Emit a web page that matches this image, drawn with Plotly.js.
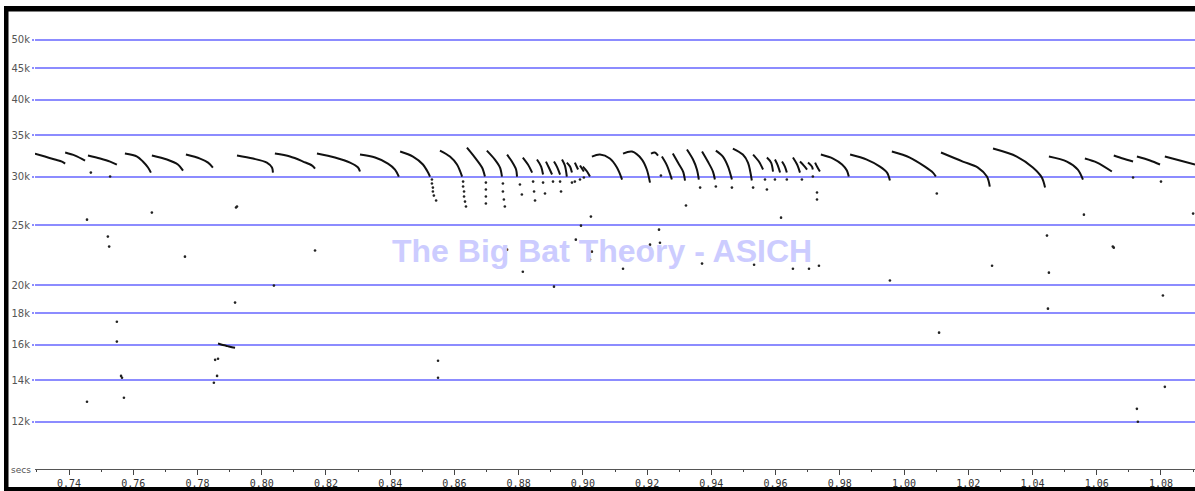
<!DOCTYPE html>
<html><head><meta charset="utf-8">
<script src="https://cdn.plot.ly/plotly-3.0.1.min.js"></script>
<style>html,body{margin:0;padding:0;background:#fff;overflow:hidden}#chart{width:1195px;height:491px}</style>
</head><body><div id="chart"></div>
<script>
const xTickVals = [0.74,0.76,0.78,0.80,0.82,0.84,0.86,0.88,0.90,0.92,0.94,0.96,0.98,1.00,1.02,1.04,1.06,1.08];
const xTickText = ['0.74','0.76','0.78','0.80','0.82','0.84','0.86','0.88','0.90','0.92','0.94','0.96','0.98','1.00','1.02','1.04','1.06','1.08'];
const yTickVals = [12,14,16,18,20,25,30,35,40,45,50];
const yTickText = ['12k','14k','16k','18k','20k','25k','30k','35k','40k','45k','50k'];

// Call contours: time (s) and frequency (kHz)
const callTimes = [
 [0.7294,0.7325,0.7356,0.7378,0.7388],
 [0.7388,0.7419,0.7450],
 [0.7459,0.7497,0.7528,0.7549],
 [0.7574,0.7612,0.7630,0.7646,0.7655],
 [0.7658,0.7705,0.7739,0.7755],
 [0.7764,0.7808,0.7833,0.7848],
 [0.7923,0.7973,0.8016,0.8032,0.8035],
 [0.8041,0.8088,0.8129,0.8157,0.8166],
 [0.8172,0.8228,0.8275,0.8300,0.8306],
 [0.8306,0.8353,0.8393,0.8415,0.8427],
 [0.8431,0.8471,0.8502,0.8518,0.8524],
 [0.8555,0.8586,0.8608,0.8624],
 [0.8639,0.8664,0.8686,0.8695],
 [0.8701,0.8726,0.8742,0.8748],
 [0.8764,0.8779,0.8792,0.8795],
 [0.8813,0.8829,0.8842],
 [0.8857,0.8870,0.8876],
 [0.8885,0.8894,0.8904],
 [0.8910,0.8919,0.8929],
 [0.8935,0.8944,0.8950],
 [0.8950,0.8960,0.8966],
 [0.8975,0.8985],
 [0.8991,0.9003],
 [0.9000,0.9013,0.9022],
 [0.9028,0.9053,0.9084,0.9106,0.9122],
 [0.9125,0.9153,0.9184,0.9199,0.9209],
 [0.9212,0.9224,0.9234],
 [0.9246,0.9262,0.9277],
 [0.9280,0.9296,0.9312,0.9318],
 [0.9324,0.9343,0.9355,0.9361],
 [0.9371,0.9389,0.9405,0.9411],
 [0.9414,0.9436,0.9452,0.9464],
 [0.9467,0.9498,0.9514,0.9526],
 [0.9530,0.9548,0.9561],
 [0.9573,0.9586,0.9592],
 [0.9598,0.9607,0.9614],
 [0.9620,0.9629,0.9635],
 [0.9654,0.9667,0.9676],
 [0.9676,0.9688,0.9698],
 [0.9701,0.9713,0.9716],
 [0.9723,0.9729,0.9738],
 [0.9741,0.9779,0.9807,0.9822,0.9828],
 [0.9832,0.9884,0.9925,0.9947,0.9956],
 [0.9962,1.0018,1.0065,1.0090,1.0099],
 [1.0115,1.0183,1.0230,1.0258,1.0267],
 [1.0277,1.0351,1.0401,1.0429,1.0439],
 [1.0451,1.0507,1.0541,1.0557],
 [1.0563,1.0601,1.0647],
 [1.0653,1.0681,1.0713],
 [1.0725,1.0766,1.0797],
 [1.0812,1.0859,1.0906],
 [0.7864,0.7876,0.7889,0.7901,0.7917]
];
const callFreqs = [
 [32.69,32.33,31.97,31.73,31.49],
 [32.82,32.45,31.85],
 [32.45,32.09,31.73,31.38],
 [32.69,32.33,31.73,31.03,30.45],
 [32.45,31.97,31.38,30.68],
 [32.57,32.09,31.61,31.03],
 [32.45,32.09,31.61,31.03,30.45],
 [32.69,32.33,31.73,31.26,30.91],
 [32.69,32.21,31.61,31.03,30.57],
 [32.57,32.21,31.49,30.80,30.00],
 [32.94,32.33,31.38,30.45,30.00],
 [33.06,32.33,31.38,30.00],
 [33.43,32.21,31.03,30.00],
 [33.06,31.97,31.03,30.00],
 [32.57,31.73,30.80,30.00],
 [32.21,31.38,30.45],
 [31.97,31.14,30.23],
 [31.73,31.03,30.23],
 [31.73,31.14,30.23],
 [31.97,31.26,30.00],
 [31.61,31.14,30.45],
 [31.61,30.80],
 [31.26,30.57],
 [31.14,30.57,30.00],
 [32.33,32.57,32.09,31.03,29.67],
 [32.69,32.94,31.97,30.80,29.33],
 [32.69,32.82,32.45],
 [32.33,31.26,29.67],
 [32.69,31.61,30.57,29.56],
 [33.19,31.97,30.80,29.67],
 [32.94,31.73,30.57,29.67],
 [33.06,32.33,31.14,29.67],
 [33.31,32.57,31.61,29.56],
 [32.57,31.73,30.80],
 [32.21,31.61,30.57],
 [31.97,31.26,30.45],
 [31.73,31.14,30.45],
 [32.21,31.38,30.45],
 [31.73,31.26,30.80],
 [31.61,31.14,30.80],
 [31.61,31.14,30.57],
 [32.57,32.09,31.38,30.68,30.00],
 [32.57,31.97,31.14,30.45,29.56],
 [32.94,32.21,31.14,30.45,30.00],
 [32.82,31.73,31.03,30.00,28.90],
 [33.31,32.33,31.03,29.89,28.79],
 [32.33,31.73,30.80,29.67],
 [32.09,31.61,30.57],
 [32.45,32.09,31.73],
 [32.33,31.85,31.38],
 [32.33,31.85,31.38],
 [16.07,16.00,15.94,15.88,15.82]
];

// Sparse tail dots below the calls
const tailTimes = [0.8530,0.8530,0.8533,0.8533,0.8536,0.8543,
 0.8627,0.8627,0.8630,0.8630,0.8633,0.8636,
 0.8698,0.8698,0.8698,0.8698,
 0.8751,0.8751,0.8754,0.8757,
 0.8804,0.8810,
 0.8845,0.8848,0.8851,
 0.8876,0.8882,
 0.8907,
 0.8929,0.8932,
 0.8966,0.8975,0.8991,0.9003,
 0.9365,0.9414,0.9464,0.9530,
 0.9567,0.9573,0.9598,0.9635,0.9682,0.9716,
 0.9729,0.9729,1.0102,1.0713,1.0800];
const tailFreqs = [29.67,29.23,28.79,28.37,27.94,27.43,
 29.44,28.90,28.37,27.84,27.32,26.82,
 29.33,28.58,27.84,27.12,
 29.23,28.37,27.53,26.82,
 29.12,28.05,
 29.44,28.37,27.43,
 29.33,28.16,
 29.44,
 29.44,28.37,
 29.33,29.44,29.67,29.89,
 28.79,28.90,28.79,28.79,
 29.67,28.58,29.67,29.67,29.67,30.00,
 28.26,27.53,28.16,29.89,29.44];

// Isolated stray points
const strayTimes = [0.7468,0.7528,0.7456,0.7521,0.7525,0.7658,0.7761,0.7920,0.7923,0.7917,0.8038,
 0.7549,0.7549,0.7855,0.7864,0.7562,0.7565,0.7861,0.7851,0.7571,0.7456,
 0.8166,0.8549,0.8549,0.8764,0.8813,0.8910,0.8978,0.8994,0.9025,0.9028,0.9022,
 0.9125,0.9209,0.9237,0.9240,0.9243,0.9321,0.9371,0.9533,0.9617,0.9654,0.9704,0.9735,
 0.9956,1.0109,1.0274,1.0445,1.0451,1.0448,1.0560,1.0650,1.0653,1.0806,1.0812,1.0725,1.0728,1.0900];
const strayFreqs = [30.45,30.00,25.54,23.97,23.09,26.22,22.24,26.72,26.82,18.73,19.96,
 17.44,16.19,15.12,15.18,14.24,14.14,14.24,13.88,13.12,12.93,
 22.75,15.07,14.14,22.83,21.02,19.88,23.70,24.97,25.83,22.66,22.00,
 21.26,23.26,24.60,23.43,30.11,26.92,21.67,21.58,25.73,21.26,21.26,21.50,
 20.34,16.74,21.50,24.06,20.95,18.31,26.02,23.09,23.00,19.23,13.67,12.59,12.00,26.12];

const traces = [];
callTimes.forEach((t, i) => {
  traces.push({type:'scatter', mode:'lines', x:t, y:callFreqs[i],
    line:{color:'#111', width:2, shape:'spline', smoothing:0.9},
    hoverinfo:'skip', showlegend:false});
});
traces.push({type:'scatter', mode:'markers', x:tailTimes, y:tailFreqs,
  marker:{color:'#222', size:2.6}, hoverinfo:'skip', showlegend:false});
traces.push({type:'scatter', mode:'markers', x:strayTimes, y:strayFreqs,
  marker:{color:'#222', size:2.6}, hoverinfo:'skip', showlegend:false});

const L = 35, B = 22, T = 12, W = 1195, H = 491;
const pw = W - L, ph = H - T - B;
const px = v => (v - L) / pw;
const py = v => (H - B - v) / ph;

const layout = {
  width: W, height: H,
  margin: {l: L, r: 0, t: T, b: B, pad: 0},
  paper_bgcolor: '#fff', plot_bgcolor: '#fff',
  showlegend: false,
  xaxis: {
    range: [0.72941, 1.09059], showgrid: false, zeroline: false,
    tickmode: 'array', tickvals: xTickVals, ticktext: xTickText,
    ticks: 'outside', ticklen: 5, tickwidth: 1, tickcolor: '#444',
    showline: true, linecolor: '#555', linewidth: 1,
    tickfont: {family: 'DejaVu Sans Mono, monospace', size: 10, color: '#333'},
    minor: {dtick: 0.01, tick0: 0.73, ticks: 'outside', ticklen: 2, tickcolor: '#444', showgrid: false}
  },
  yaxis: {
    type: 'log', range: [Math.log10(10.055), Math.log10(55.5)],
    tickmode: 'array', tickvals: yTickVals, ticktext: yTickText,
    showgrid: true, gridcolor: 'rgb(140,140,255)', gridwidth: 2,
    zeroline: false, showline: false,
    ticks: 'outside', ticklen: 2, tickwidth: 2, tickcolor: 'rgb(140,140,255)',
    tickfont: {family: 'DejaVu Sans, sans-serif', size: 10, color: '#555'}
  },
  annotations: [
    {xref:'paper', yref:'paper', x: px(602), y: py(251), xanchor:'center', yanchor:'middle',
     text:'<b>The Big Bat Theory - ASICH</b>', showarrow:false,
     font:{family:'Liberation Sans, Arial, sans-serif', size:32, color:'rgb(204,204,255)'}},
    {xref:'paper', yref:'paper', x: px(33), y: py(470), xanchor:'right', yanchor:'middle',
     text:'secs', showarrow:false,
     font:{family:'DejaVu Sans, sans-serif', size:9, color:'#555'}}
  ],
  shapes: [
    {type:'rect', xref:'paper', yref:'paper', layer:'above', x0: px(4), x1: px(1195), y0: py(11.5), y1: py(6),
     fillcolor:'#000', line:{width:0}},
    {type:'rect', xref:'paper', yref:'paper', layer:'above', x0: px(4), x1: px(8.5), y0: py(491), y1: py(6),
     fillcolor:'#000', line:{width:0}},
    {type:'rect', xref:'paper', yref:'paper', layer:'above', x0: px(4), x1: px(1195), y0: py(491), y1: py(487),
     fillcolor:'#000', line:{width:0}}
  ]
};

Plotly.newPlot('chart', traces, layout, {staticPlot: true, displayModeBar: false});
</script>
</body></html>
